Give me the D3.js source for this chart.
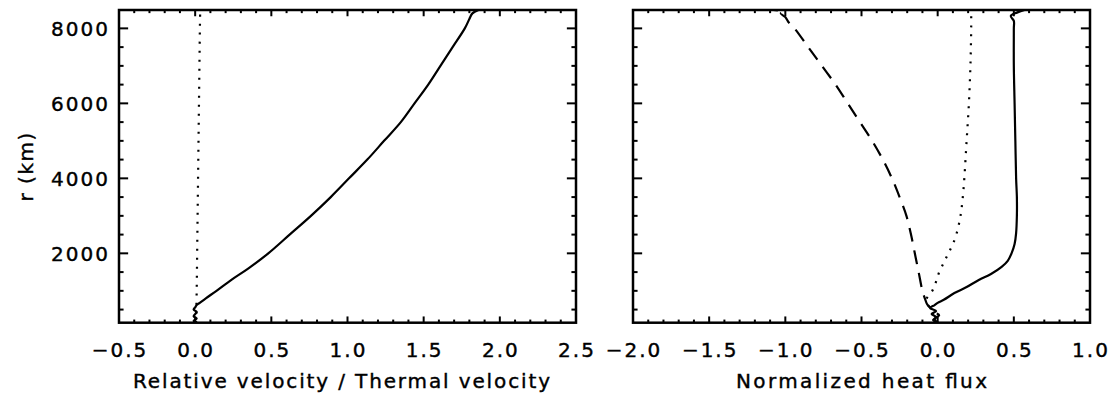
<!DOCTYPE html>
<html>
<head>
<meta charset="utf-8">
<script src="https://cdn.jsdelivr.net/npm/d3@7"></script>
<style>
  html, body { margin: 0; padding: 0; background: #fff; }
  svg text { font-family: "DejaVu Sans", sans-serif; fill: #000; stroke: #000; stroke-width: 0.4px; }
</style>
</head>
<body>
<div id="chart"></div>
<script>
// ---- data (r in km) ----
const yTicks = [2000, 4000, 6000, 8000];
const leftXTicks = [-0.5, 0.0, 0.5, 1.0, 1.5, 2.0, 2.5];
const rightXTicks = [-2.0, -1.5, -1.0, -0.5, 0.0, 0.5, 1.0];

// left panel: relative velocity / thermal velocity
const velSolidR = [150, 200, 260, 320, 380, 440, 500, 560, 620, 680, 800, 1000, 1300, 1600, 2000, 2500, 3000, 3500, 4000, 4500, 5000, 5500, 6000, 6500, 7000, 7500, 8000, 8250, 8400, 8490];
const velSolidX = [0.0, -0.01, 0.01, -0.01, 0.0, 0.01, -0.01, 0.0, 0.01, 0.03, 0.07, 0.14, 0.24, 0.35, 0.48, 0.62, 0.76, 0.89, 1.01, 1.13, 1.24, 1.35, 1.44, 1.53, 1.61, 1.69, 1.77, 1.80, 1.82, 1.86];
const velDotR = [150, 1000, 2000, 3000, 4000, 5000, 6000, 7000, 8000, 8490];
const velDotX = [0.006, 0.01, 0.013, 0.016, 0.019, 0.022, 0.025, 0.028, 0.031, 0.033];

// right panel: normalized heat flux
const fluxSolidR = [150, 220, 300, 380, 460, 540, 620, 680, 760, 940, 1100, 1290, 1450, 1640, 1800, 2000, 2250, 2540, 3000, 3500, 4000, 5000, 6000, 7000, 8000, 8200, 8330, 8420, 8490];
const fluxSolidX = [0.0, -0.03, -0.01, -0.04, -0.01, -0.05, -0.02, 0.0, 0.04, 0.11, 0.19, 0.27, 0.35, 0.42, 0.46, 0.485, 0.505, 0.515, 0.52, 0.52, 0.515, 0.51, 0.505, 0.50, 0.50, 0.50, 0.48, 0.52, 0.57];
const fluxDashR = [150, 250, 350, 450, 550, 650, 750, 1000, 1500, 2000, 2500, 3000, 3500, 4000, 4500, 5000, 5500, 6000, 6500, 7000, 7500, 8000, 8170, 8300, 8400, 8450, 8490];
const fluxDashX = [0.0, -0.02, 0.01, -0.03, -0.05, -0.07, -0.08, -0.10, -0.125, -0.15, -0.175, -0.205, -0.25, -0.30, -0.36, -0.43, -0.51, -0.59, -0.67, -0.76, -0.85, -0.94, -0.98, -1.0, -1.03, -1.01, -1.08];
const fluxDotR = [150, 300, 500, 750, 1000, 1250, 1500, 1750, 2000, 2250, 2540, 3000, 3500, 4000, 5000, 6000, 7000, 8000, 8490];
const fluxDotX = [0.0, -0.02, -0.045, -0.075, -0.035, -0.01, 0.01, 0.04, 0.07, 0.10, 0.125, 0.15, 0.165, 0.175, 0.19, 0.205, 0.215, 0.22, 0.22];

const W = 1110, H = 397;
const plotTop = 10, plotBottom = 322.7, plotW = 457;
const yDomain = [150, 8490];

const svg = d3.select("#chart").append("svg")
    .attr("width", W)
    .attr("height", H)
    .style("background", "#fff");

const fmt = v => d3.format(".1f")(v).replace("-", "\u2212");

function zip(rs, xs) {
    return rs.map((r, i) => ({ r: r, x: xs[i] }));
}

function drawPanel(cfg) {
    const x = d3.scaleLinear().domain(cfg.xDomain).range([cfg.left, cfg.left + plotW]);
    const y = d3.scaleLinear().domain(yDomain).range([plotBottom, plotTop]);
    const g = svg.append("g");
    const ph = plotBottom - plotTop;
    const xMaj = 0.02 * ph, yMaj = 0.02 * plotW;

    const clipId = "clip" + cfg.left;
    svg.append("clipPath").attr("id", clipId)
        .append("rect").attr("x", cfg.left).attr("y", plotTop).attr("width", plotW).attr("height", ph);

    // minor / major x ticks, bottom and top, pointing inward
    const xMinor = d3.range(cfg.xDomain[0], cfg.xDomain[1] + 1e-9, 0.1);
    xMinor.forEach(v => {
        const isMaj = Math.abs(v * 2 - Math.round(v * 2)) < 1e-6;
        const len = isMaj ? xMaj : xMaj / 2;
        g.append("line").attr("x1", x(v)).attr("x2", x(v)).attr("y1", plotBottom).attr("y2", plotBottom - len)
            .attr("stroke", "#000").attr("stroke-width", 2);
        g.append("line").attr("x1", x(v)).attr("x2", x(v)).attr("y1", plotTop).attr("y2", plotTop + len)
            .attr("stroke", "#000").attr("stroke-width", 2);
    });
    const yMinor = d3.range(500, yDomain[1], 500);
    yMinor.forEach(v => {
        const len = v % 2000 === 0 ? yMaj : yMaj / 2;
        g.append("line").attr("x1", cfg.left).attr("x2", cfg.left + len).attr("y1", y(v)).attr("y2", y(v))
            .attr("stroke", "#000").attr("stroke-width", 2);
        g.append("line").attr("x1", cfg.left + plotW).attr("x2", cfg.left + plotW - len).attr("y1", y(v)).attr("y2", y(v))
            .attr("stroke", "#000").attr("stroke-width", 2);
    });

    // box
    g.append("rect").attr("x", cfg.left).attr("y", plotTop).attr("width", plotW).attr("height", ph)
        .attr("fill", "none").attr("stroke", "#000").attr("stroke-width", 2.5);

    // x tick labels
    g.selectAll(".xl").data(cfg.xTicks).join("text")
        .attr("x", d => x(d) + 1)
        .attr("y", 357)
        .attr("text-anchor", "middle")
        .attr("font-size", 20)
        .attr("letter-spacing", 2)
        .text(fmt);

    if (cfg.yLabels) {
        g.selectAll(".yl").data(yTicks).join("text")
            .attr("x", cfg.left - 9)
            .attr("y", d => y(d) + 7.3)
            .attr("text-anchor", "end")
            .attr("font-size", 20)
            .attr("letter-spacing", 2)
            .text(d => d);
        g.append("text")
            .attr("transform", `translate(33, ${(plotTop + plotBottom) / 2}) rotate(-90)`)
            .attr("text-anchor", "middle")
            .attr("font-size", 20)
            .attr("letter-spacing", 1.5)
            .text("r (km)");
    }

    g.append("text")
        .attr("x", cfg.left + plotW / 2 + cfg.titleShift)
        .attr("y", 388)
        .attr("text-anchor", "middle")
        .attr("font-size", 20)
        .attr("textLength", cfg.titleLen)
        .attr("lengthAdjust", "spacing")
        .text(cfg.title);

    const line = d3.line()
        .x(d => x(d.x))
        .y(d => y(d.r))
        .curve(d3.curveCatmullRom.alpha(0.5));
    cfg.series.forEach(s => {
        svg.append("path")
            .datum(zip(s.r, s.x))
            .attr("clip-path", `url(#${clipId})`)
            .attr("fill", "none")
            .attr("stroke", "#000")
            .attr("stroke-width", 2.2)
            .attr("stroke-linejoin", "round")
            .attr("stroke-dasharray", s.dash)
            .attr("d", line);
    });
}

drawPanel({
    left: 119,
    xDomain: [-0.5, 2.5],
    xTicks: leftXTicks,
    yLabels: true,
    title: "Relative velocity / Thermal velocity",
    titleLen: 417,
    titleShift: -6,
    series: [
        { r: velDotR, x: velDotX, dash: "2,7" },
        { r: velSolidR, x: velSolidX, dash: null }
    ]
});

drawPanel({
    left: 633,
    xDomain: [-2.0, 1.0],
    xTicks: rightXTicks,
    yLabels: false,
    title: "Normalized heat flux",
    titleLen: 251,
    titleShift: 0,
    series: [
        { r: fluxDotR, x: fluxDotX, dash: "2,7" },
        { r: fluxDashR, x: fluxDashX, dash: "14,9" },
        { r: fluxSolidR, x: fluxSolidX, dash: null }
    ]
});
</script>
</body>
</html>
